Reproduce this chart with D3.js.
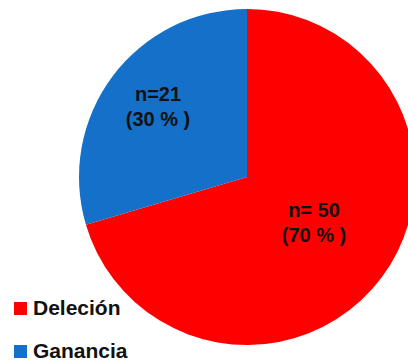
<!DOCTYPE html>
<html><head><meta charset="utf-8">
<script src="https://cdn.jsdelivr.net/npm/d3@7"></script>
<style>html,body{margin:0;padding:0;background:#fff;overflow:hidden}</style>
</head><body>
<svg id="chart" width="408" height="362"></svg>
<script>
const categories = ["Deleción", "Ganancia"];
const values = [50, 21];
const sliceLabels = [["n= 50", "(70 % )"], ["n=21", "(30 % )"]];
const colors = ["#FF0000", "#1470C8"];

const svg = d3.select("#chart");
const cx = 247, cy = 177, r = 168;
const pie = d3.pie().sort(null).value(d => d)(values);
const arc = d3.arc().innerRadius(0).outerRadius(r);
const g = svg.append("g").attr("transform", `translate(${cx},${cy})`);
g.selectAll("path").data(pie).join("path")
  .attr("d", arc).attr("fill", (d, i) => colors[i]);

const labelPos = [[67, 40], [-89, -76]];
pie.forEach((d, i) => {
  const [x, y] = labelPos[i];
  const t = g.append("text").attr("x", x).attr("y", y)
    .attr("text-anchor", "middle")
    .style("font-family", "Liberation Sans, Arial, sans-serif")
    .style("font-weight", "bold").style("font-size", "20px").attr("fill", "#111");
  sliceLabels[i].forEach((s, j) => {
    t.append("tspan").attr("x", x).attr("dy", j === 0 ? 0 : 25).text(s);
  });
});

const leg = svg.append("g");
categories.forEach((c, i) => {
  const y = 315 + i * 43;
  leg.append("rect").attr("x", 14).attr("y", y - 13).attr("width", 13).attr("height", 13).attr("fill", colors[i]);
  leg.append("text").attr("x", 33).attr("y", y)
    .style("font-family", "Liberation Sans, Arial, sans-serif")
    .style("font-weight", "bold").style("font-size", "21px").attr("fill", "#111").text(c);
});
</script>
</body></html>
